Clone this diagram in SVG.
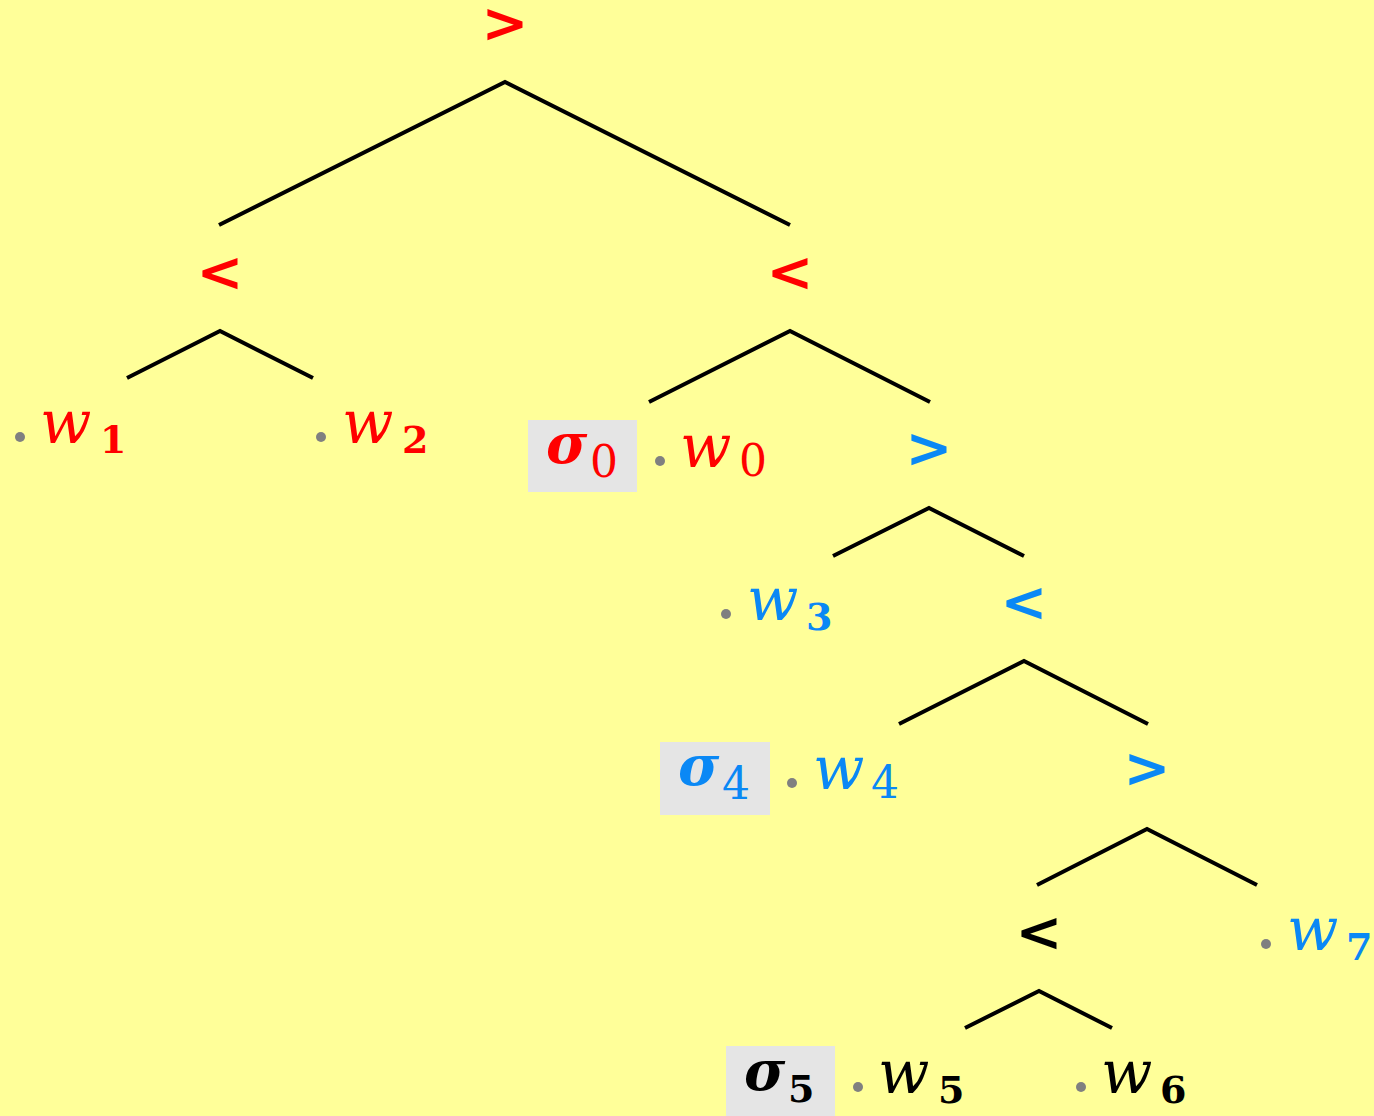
<svg xmlns="http://www.w3.org/2000/svg" width="1374" height="1116" viewBox="0 0 1374 1116">
<style>
.op{font-family:"DejaVu Sans",sans-serif;font-weight:bold;font-size:56px;text-anchor:middle}
.w{font-family:"DejaVu Serif",serif;font-style:italic;font-size:60px}
.sub{font-family:"DejaVu Serif",serif;font-weight:bold;font-size:38px}
.sg{font-family:"DejaVu Serif",serif;font-style:italic;font-weight:bold;font-size:56px}
.sgsub{font-family:"DejaVu Serif",serif;font-size:44px}
.red{fill:#ff0000}.blue{fill:#0a88f5}.blk{fill:#000}
.dot{fill:#808080}
.box{fill:#e5e5e5}
.edge{stroke:#000;stroke-width:4;fill:none}
</style>
<rect width="1374" height="1116" fill="#ffff99"/>
<g id="connectors">
<polyline class="edge" points="219,225 505,82 790,225"/>
<polyline class="edge" points="127,378 220,331 313,378"/>
<polyline class="edge" points="649,402 790,331 930,402"/>
<polyline class="edge" points="833,556 929,508 1024,556"/>
<polyline class="edge" points="899,724 1024,661 1148,724"/>
<polyline class="edge" points="1037,885 1147,829 1257,885"/>
<polyline class="edge" points="965,1028 1039,991 1112,1028"/>
</g>
<g id="op-root"><text class="op red" x="505" y="42">&gt;</text></g>
<g id="op-l"><text class="op red" x="220" y="291">&lt;</text></g>
<g id="op-r"><text class="op red" x="790" y="291">&lt;</text></g>
<g id="op-b1"><text class="op blue" x="929" y="467">&gt;</text></g>
<g id="op-b2"><text class="op blue" x="1024" y="621">&lt;</text></g>
<g id="op-b3"><text class="op blue" x="1147" y="787">&gt;</text></g>
<g id="op-k"><text class="op blk" x="1039" y="951">&lt;</text></g>
<g id="w1"><circle class="dot" cx="20" cy="437" r="5"/><text class="w red" x="40" y="443">w</text><text class="sub red" x="100" y="453">1</text></g>
<g id="w2"><circle class="dot" cx="321" cy="437" r="5"/><text class="w red" x="342" y="443">w</text><text class="sub red" x="402" y="453">2</text></g>
<g id="s0"><rect class="box" x="528" y="420" width="109" height="72"/><text class="sg red" x="546" y="463">σ</text><text class="sgsub red" x="590" y="477">0</text></g>
<g id="w0"><circle class="dot" cx="660" cy="461" r="5"/><text class="w red" x="680" y="467">w</text><text class="sgsub red" x="739" y="476">0</text></g>
<g id="w3"><circle class="dot" cx="726" cy="614" r="5"/><text class="w blue" x="747" y="620">w</text><text class="sub blue" x="806" y="630">3</text></g>
<g id="s4"><rect class="box" x="660" y="742" width="110" height="73"/><text class="sg blue" x="678" y="785">σ</text><text class="sgsub blue" x="722" y="799">4</text></g>
<g id="w4"><circle class="dot" cx="792" cy="783" r="5"/><text class="w blue" x="813" y="789">w</text><text class="sgsub blue" x="871" y="798">4</text></g>
<g id="w7"><circle class="dot" cx="1266" cy="944" r="5"/><text class="w blue" x="1287" y="950">w</text><text class="sub blue" x="1346" y="960">7</text></g>
<g id="s5"><rect class="box" x="726" y="1046" width="109" height="70"/><text class="sg blk" x="744" y="1090">σ</text><text class="sub blk" x="788" y="1102">5</text></g>
<g id="w5"><circle class="dot" cx="858" cy="1087" r="5"/><text class="w blk" x="878" y="1093">w</text><text class="sub blk" x="938" y="1103">5</text></g>
<g id="w6"><circle class="dot" cx="1081" cy="1087" r="5"/><text class="w blk" x="1101" y="1093">w</text><text class="sub blk" x="1160" y="1103">6</text></g>
</svg>
